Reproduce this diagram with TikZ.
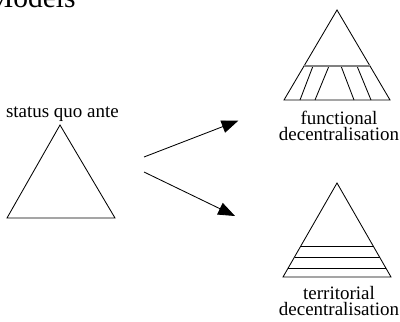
\documentclass[tikz,border=0pt]{standalone}
\usepackage{fontspec}
\setmainfont{Liberation Serif}
\usetikzlibrary{arrows.meta, calc}

\begin{document}
\begin{tikzpicture}[
  tri/.style={draw, line width=0.6pt},
  stripe/.style={line width=0.6pt},
  txt/.style={font=\fontsize{13.5}{11}\selectfont, align=center, inner sep=0pt},
  arrow/.style={-{Triangle[length=0.42cm, width=0.32cm]}, line width=0.6pt}
]
\useasboundingbox (0,0) rectangle (10,8.025);

% Title (cut at the top edge)
\node[font=\fontsize{21}{21}\selectfont, anchor=base west, inner sep=0pt] (title) at (-0.33,7.84) {Models};

% Left triangle -- status quo ante
\coordinate (sq-top) at (1.5,4.9);
\coordinate (sq-bl)  at (0.175,2.575);
\coordinate (sq-br)  at (2.875,2.575);
\draw[tri] (sq-top) -- (sq-bl) -- (sq-br) -- cycle;
\node[txt, anchor=base] (sq-lbl) at (1.56,5.08) {status quo ante};

% Upper right triangle -- functional
\coordinate (fn-top) at (8.425,7.775);
\coordinate (fn-bl)  at (7.1,5.525);
\coordinate (fn-br)  at (9.75,5.525);
\draw[tri] (fn-top) -- (fn-bl) -- (fn-br) -- cycle;
\coordinate (fn-l) at ($(fn-top)!0.622!(fn-bl)$);
\coordinate (fn-r) at ($(fn-top)!0.622!(fn-br)$);
\foreach \a/\b in {7.825/7.5, 8.225/7.875, 8.525/8.85, 8.925/9.275}
  \draw[stripe] (\a,6.375) -- (\b,5.525);
\draw[gray, line width=1.2pt] (fn-l) -- (fn-r);
\node[txt, anchor=base] (fn-lbl) at (8.475,4.52) {functional\\decentralisation};

% Lower right triangle -- territorial
\coordinate (tr-top) at (8.425,3.45);
\coordinate (tr-bl)  at (7.075,1.1);
\coordinate (tr-br)  at (9.775,1.1);
\draw[tri] (tr-top) -- (tr-bl) -- (tr-br) -- cycle;
\foreach \t in {0.670, 0.787, 0.904}
  \draw[stripe] ($(tr-top)!\t!(tr-bl)$) -- ($(tr-top)!\t!(tr-br)$);
\node[txt, anchor=base] (tr-lbl) at (8.475,0.15) {territorial\\decentralisation};

% Arrows
\coordinate (up-s) at (3.6,4.1);
\coordinate (up-e) at (5.96,5.01);
\coordinate (dn-s) at (3.6,3.725);
\coordinate (dn-e) at (5.875,2.625);
\draw[arrow] (up-s) -- (up-e);
\draw[arrow] (dn-s) -- (dn-e);
\end{tikzpicture}
\end{document}
